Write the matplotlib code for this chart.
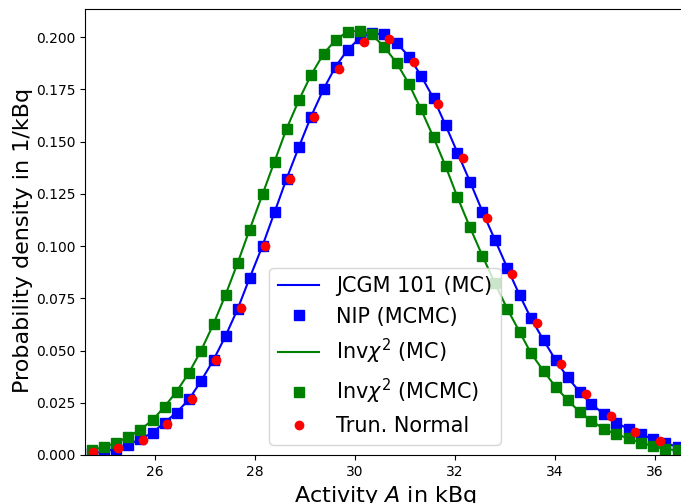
import matplotlib
matplotlib.use('Agg')
import matplotlib.pyplot as plt

# bin centres for the histogram-like series (kBq)
bins = [24.73, 24.97, 25.22, 25.45, 25.70, 25.95, 26.19, 26.43, 26.68, 26.92,
        27.17, 27.41, 27.65, 27.89, 28.15, 28.39, 28.63, 28.88, 29.12, 29.37,
        29.61, 29.85, 30.09, 30.33, 30.58, 30.83, 31.08, 31.32, 31.57, 31.81,
        32.05, 32.30, 32.55, 32.80, 33.05, 33.29, 33.52, 33.77, 34.01, 34.25,
        34.49, 34.73, 34.98, 35.22, 35.47, 35.71, 35.95, 36.20, 36.45, 36.69]

# JCGM 101 / NIP
nip = [0.0009, 0.0016, 0.0029, 0.0048, 0.0075, 0.0107, 0.0155, 0.0203, 0.0266, 0.0354,
       0.0455, 0.0569, 0.0697, 0.0845, 0.1001, 0.1161, 0.1321, 0.1475, 0.1619, 0.1750,
       0.1858, 0.1938, 0.1994, 0.2018, 0.2013, 0.1973, 0.1906, 0.1815, 0.1707, 0.1579,
       0.1446, 0.1308, 0.1164, 0.1029, 0.0893, 0.0766, 0.0654, 0.0550, 0.0455, 0.0372,
       0.0303, 0.0244, 0.0195, 0.0155, 0.0124, 0.0100, 0.0077, 0.0056, 0.0040, 0.0029]

# Inv chi^2
invchi = [0.0024, 0.0037, 0.0059, 0.0085, 0.0120, 0.0167, 0.0231, 0.0303, 0.0394, 0.0499,
          0.0627, 0.0766, 0.0917, 0.1077, 0.1247, 0.1404, 0.1560, 0.1699, 0.1818, 0.1919,
          0.1986, 0.2025, 0.2030, 0.2013, 0.1954, 0.1877, 0.1775, 0.1654, 0.1520, 0.1383,
          0.1233, 0.1089, 0.0952, 0.0821, 0.0697, 0.0590, 0.0487, 0.0402, 0.0327, 0.0263,
          0.0207, 0.0164, 0.0124, 0.0099, 0.0080, 0.0059, 0.0043, 0.0029, 0.0022, 0.0015]

# truncated normal
tn_x = [24.75, 25.25, 25.75, 26.23, 26.73, 27.22, 27.71, 28.20, 28.70, 29.18,
        29.68, 30.18, 30.68, 31.17, 31.65, 32.15, 32.63, 33.13, 33.63, 34.12,
        34.62, 35.12, 35.60, 36.09]
tn_y = [0.0013, 0.0032, 0.0072, 0.0147, 0.0268, 0.0455, 0.0705, 0.1001, 0.1319, 0.1619,
        0.1847, 0.1978, 0.1989, 0.1882, 0.1678, 0.1420, 0.1136, 0.0866, 0.0630, 0.0435,
        0.0290, 0.0187, 0.0111, 0.0067]

fig = plt.figure(figsize=(6.81, 5.03), dpi=100)
ax = fig.add_axes([85/681, 48/503, 600/681, 446/503])

ax.plot(bins, nip, '-', color='blue', lw=1.5, label='JCGM 101 (MC)')
ax.plot(bins, nip, 's', color='blue', ms=7, label='NIP (MCMC)')
ax.plot(bins, invchi, '-', color='green', lw=1.5, label=r'Inv$\chi^2$ (MC)')
ax.plot(bins, invchi, 's', color='green', ms=7, label=r'Inv$\chi^2$ (MCMC)')
ax.plot(tn_x, tn_y, 'o', color='red', ms=6, label='Trun. Normal')

ax.set_xlim(24.6, 36.6)
ax.set_ylim(0, 0.2134)
ax.set_xticks([26, 28, 30, 32, 34, 36])
ax.set_yticks([0.0, 0.025, 0.05, 0.075, 0.1, 0.125, 0.15, 0.175, 0.2])
ax.set_xlabel('Activity $A$ in kBq', fontsize=16)
ax.set_ylabel('Probability density in 1/kBq', fontsize=16)
ax.yaxis.set_label_coords(-0.087, 0.482)
ax.legend(loc='lower center', fontsize=15)

fig.savefig('out.png', dpi=100)
